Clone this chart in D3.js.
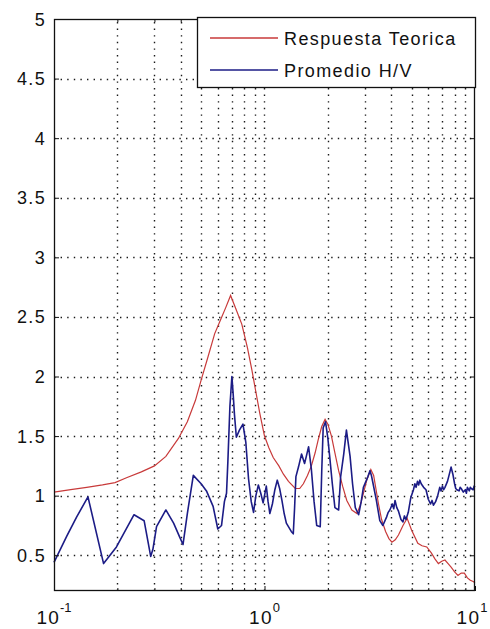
<!DOCTYPE html>
<html>
<head>
<meta charset="utf-8">
<script src="https://cdn.jsdelivr.net/npm/d3@7"></script>
<style>
  html, body { margin: 0; padding: 0; background: #fff; }
  svg { display: block; }
  text { font-family: "Liberation Sans", Arial, sans-serif; fill: #111; }
</style>
</head>
<body>
<svg id="chart" width="490" height="629"></svg>
<script>
// Theoretical transfer function (frequency in Hz, amplification)
const freqTeorica = [0.1, 0.12, 0.143, 0.17, 0.195, 0.221, 0.26, 0.3, 0.34, 0.39, 0.43, 0.47, 0.5, 0.54, 0.58, 0.62, 0.655, 0.69,
  0.73, 0.78, 0.83, 0.87, 0.91, 0.95, 1.0, 1.05, 1.1, 1.17, 1.23, 1.3, 1.4, 1.47, 1.53, 1.6, 1.67, 1.74, 1.8, 1.87, 1.94,
  2.0, 2.08, 2.16, 2.25, 2.35, 2.46, 2.6, 2.75, 2.85, 2.95, 3.07, 3.2, 3.3, 3.48, 3.6, 3.76, 3.9, 4.03, 4.18, 4.33, 4.55,
  4.76, 5.0, 5.35, 5.6, 5.9, 6.2, 6.45, 6.7, 6.95, 7.2, 7.45, 7.7, 8.0, 8.3, 8.6, 8.9, 9.2, 9.5, 9.8, 10];
const ampTeorica = [1.03, 1.05, 1.07, 1.09, 1.11, 1.15, 1.2, 1.25, 1.33, 1.48, 1.62, 1.8, 1.97, 2.17, 2.36, 2.48, 2.58, 2.68,
  2.57, 2.44, 2.24, 2.06, 1.87, 1.69, 1.5, 1.4, 1.32, 1.25, 1.18, 1.12, 1.06, 1.06, 1.1, 1.17, 1.25, 1.36, 1.47, 1.58, 1.64,
  1.6, 1.5, 1.36, 1.21, 1.08, 0.96, 0.88, 0.85, 0.92, 1.02, 1.14, 1.22, 1.17, 0.93, 0.8, 0.7, 0.64, 0.61, 0.63, 0.67, 0.75,
  0.81, 0.71, 0.6, 0.58, 0.57, 0.52, 0.47, 0.43, 0.45, 0.46, 0.43, 0.4, 0.36, 0.33, 0.35, 0.35, 0.31, 0.29, 0.28, 0.27];

// Averaged H/V spectral ratio
const freqHV = [0.1, 0.115, 0.128, 0.145, 0.172, 0.198, 0.24, 0.268, 0.288, 0.295, 0.307, 0.34, 0.37, 0.396, 0.41, 0.43, 0.459,
  0.5, 0.53, 0.57, 0.6, 0.625, 0.645, 0.66, 0.67, 0.685, 0.7, 0.71, 0.72, 0.735, 0.76, 0.79, 0.815, 0.84, 0.865, 0.887,
  0.91, 0.935, 0.96, 0.985, 1.0, 1.02, 1.04, 1.06, 1.09, 1.12, 1.15, 1.18, 1.21, 1.24, 1.27, 1.31, 1.34, 1.37, 1.39, 1.41,
  1.45, 1.5, 1.55, 1.58, 1.62, 1.67, 1.72, 1.77, 1.84, 1.87, 1.9, 1.95, 2.0, 2.04, 2.1, 2.16, 2.25, 2.3, 2.38, 2.45, 2.55,
  2.62, 2.7, 2.8, 2.88, 2.95, 3.05, 3.1, 3.17, 3.22, 3.28, 3.4, 3.53, 3.65, 3.8, 3.87, 3.94, 4.05, 4.11, 4.17, 4.25, 4.33,
  4.45, 4.55, 4.62, 4.7, 4.82, 4.95, 5.1, 5.18, 5.25, 5.33, 5.4, 5.47, 5.55, 5.7, 5.85, 6.0, 6.15, 6.25, 6.35, 6.5, 6.65,
  6.8, 6.9, 7.0, 7.1, 7.2, 7.4, 7.6, 7.7, 7.85, 8.0, 8.1, 8.2, 8.4, 8.5, 8.6, 8.8, 9.0, 9.1, 9.2, 9.4, 9.5, 9.6, 9.8, 9.9, 10];
const ampHV = [0.44, 0.66, 0.82, 0.99, 0.43, 0.57, 0.84, 0.79, 0.49, 0.55, 0.74, 0.88, 0.77, 0.65, 0.59, 0.85, 1.17,
  1.1, 1.04, 0.91, 0.72, 0.75, 0.95, 1.02, 1.29, 1.75, 2.0, 1.85, 1.68, 1.49, 1.55, 1.6, 1.45, 1.14, 0.95, 0.86,
  1.0, 1.09, 1.02, 0.94, 1.0, 1.08, 0.95, 0.85, 0.93, 1.05, 1.13, 1.06, 0.96, 0.85, 0.77, 0.73, 0.7, 0.68, 0.9, 1.16,
  1.24, 1.35, 1.27, 1.33, 1.41, 1.22, 0.95, 0.75, 0.74, 1.2, 1.57, 1.62, 1.48, 1.33, 1.1, 0.9, 0.88, 1.16, 1.35, 1.55, 1.33,
  1.1, 0.9, 0.84, 0.95, 1.07, 1.13, 1.16, 1.21, 1.17, 1.1, 0.96, 0.79, 0.75, 0.82, 0.86, 0.88, 0.93, 0.89, 0.96, 0.9, 0.87,
  0.8, 0.78, 0.83, 0.8, 0.86, 0.98, 1.05, 1.1, 1.07, 1.12, 1.09, 1.13, 1.1, 1.07, 1.05, 0.97, 0.93, 0.96, 0.92, 0.95, 1.0,
  1.07, 1.04, 1.08, 1.05, 1.07, 1.12, 1.2, 1.24, 1.18, 1.1, 1.06, 1.05, 1.04, 1.07, 1.06, 1.03, 1.05, 1.02, 1.07, 1.04, 1.07, 1.06, 1.05, 1.08, 1.07];

const yTicks = [0.5, 1, 1.5, 2, 2.5, 3, 3.5, 4, 4.5, 5];
const yTickLabels = ["0.5", "1", "1.5", "2", "2.5", "3", "3.5", "4", "4.5", "5"];
const xMajor = [0.1, 1, 10];
const xExponents = ["-1", "0", "1"];
const seriesNames = ["Respuesta Teorica", "Promedio H/V"];
const seriesColors = ["#c83a3a", "#1c1c86"];

const svg = d3.select("#chart");
const plotL = 54, plotR = 475, plotT = 19, plotB = 591;

const x = d3.scaleLog().domain([0.1, 10]).range([plotL, plotR]);
const y = d3.scaleLinear().domain([0.2, 5]).range([plotB, plotT]);

// minor decade positions 0.2..0.9, 2..9
const xMinor = [];
[0.1, 1].forEach(d => { for (let k = 2; k <= 9; k++) xMinor.push(+(d * k).toFixed(3)); });

// dotted grid
const grid = svg.append("g").attr("stroke", "#1a1a1a").attr("stroke-width", 1.4)
  .attr("stroke-dasharray", "1.4,5.2").attr("fill", "none");
grid.selectAll("line.v").data(xMinor.concat([1])).join("line").attr("class", "v")
  .attr("x1", d => Math.round(x(d)) + 0.5).attr("x2", d => Math.round(x(d)) + 0.5)
  .attr("y1", plotB).attr("y2", plotT);
grid.selectAll("line.h").data(yTicks.filter(d => d < 5)).join("line").attr("class", "h")
  .attr("y1", d => Math.round(y(d)) + 0.5).attr("y2", d => Math.round(y(d)) + 0.5)
  .attr("x1", plotL).attr("x2", plotR);

// curves
const line = d3.line().x(d => x(d[0])).y(d => y(d[1]));
const teorica = freqTeorica.map((f, i) => [f, ampTeorica[i]]);
const hv = freqHV.map((f, i) => [f, ampHV[i]]);
svg.append("path").datum(teorica).attr("d", line)
  .attr("fill", "none").attr("stroke", seriesColors[0]).attr("stroke-width", 1.2);
svg.append("path").datum(hv).attr("d", line)
  .attr("fill", "none").attr("stroke", seriesColors[1]).attr("stroke-width", 1.6)
  .attr("stroke-linejoin", "round");

// axes box with inward ticks
const axes = svg.append("g");
axes.append("g").attr("transform", `translate(${plotL},0)`)
  .call(d3.axisLeft(y).tickValues(yTicks).tickSizeInner(-5).tickSizeOuter(0).tickFormat(""));
axes.append("g").attr("transform", `translate(${plotR},0)`)
  .call(d3.axisRight(y).tickValues(yTicks).tickSizeInner(-5).tickSizeOuter(0).tickFormat(""));
axes.append("g").attr("transform", `translate(0,${plotB})`)
  .call(d3.axisBottom(x).tickValues(xMajor).tickSizeInner(-5).tickSizeOuter(0).tickFormat(""));
axes.append("g").attr("transform", `translate(0,${plotB})`)
  .call(d3.axisBottom(x).tickValues(xMinor).tickSizeInner(-3).tickSizeOuter(0).tickFormat(""));
axes.append("g").attr("transform", `translate(0,${plotT})`)
  .call(d3.axisTop(x).tickValues(xMajor).tickSizeInner(-5).tickSizeOuter(0).tickFormat(""));
axes.append("g").attr("transform", `translate(0,${plotT})`)
  .call(d3.axisTop(x).tickValues(xMinor).tickSizeInner(-3).tickSizeOuter(0).tickFormat(""));
axes.selectAll("path.domain").remove();
axes.selectAll("line").attr("stroke", "#111");
svg.append("rect").attr("x", plotL + 0.5).attr("y", plotT + 0.5)
  .attr("width", plotR - plotL - 1).attr("height", plotB - plotT - 1)
  .attr("fill", "none").attr("stroke", "#111").attr("stroke-width", 1.3);

// y tick labels
svg.append("g").selectAll("text").data(yTicks).join("text")
  .attr("x", 46).attr("y", d => y(d) + 6.5)
  .attr("text-anchor", "end").attr("font-size", 18).attr("letter-spacing", 1.3)
  .text((d, i) => yTickLabels[i]);

// x tick labels as powers of ten
const xl = svg.append("g").selectAll("text").data(xMajor).join("text")
  .attr("x", (d, i) => x(d) - (i === 2 ? 3 : 0)).attr("y", 624)
  .attr("text-anchor", "middle").attr("font-size", 19).attr("letter-spacing", 1.2);
xl.append("tspan").text("10");
xl.append("tspan").attr("dy", -12).attr("font-size", 13).attr("letter-spacing", 0)
  .text((d, i) => xExponents[i]);

// legend
const lg = svg.append("g");
lg.append("rect").attr("x", 197.5).attr("y", 17.5).attr("width", 278).attr("height", 70)
  .attr("fill", "#fff").attr("stroke", "#111").attr("stroke-width", 1.3);
seriesNames.forEach((name, i) => {
  const yy = 38 + i * 32;
  lg.append("line").attr("x1", 210).attr("x2", 278).attr("y1", yy).attr("y2", yy)
    .attr("stroke", seriesColors[i]).attr("stroke-width", 1.3);
  lg.append("text").attr("x", 284).attr("y", yy + 7)
    .attr("font-size", 18).attr("letter-spacing", 1.4).text(name);
});
</script>
</body>
</html>
